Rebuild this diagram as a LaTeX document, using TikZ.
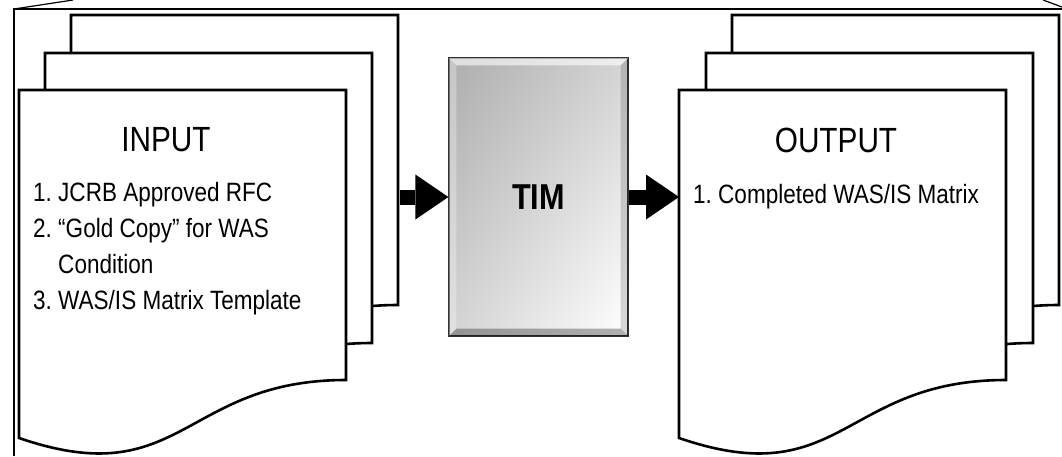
\documentclass[tikz,border=0pt]{standalone}
\usepackage{fontspec}
\setmainfont{Liberation Sans}[FakeStretch=0.85]
\usetikzlibrary{arrows.meta,calc,shadings}
\frenchspacing

% one sheet of a stack, top left corner at (#1,#2)
\newcommand{\docsheet}[2]{%
  \begin{scope}[shift={(#1,#2)}]
    \filldraw[sheet] (0,0) -- (327,0) -- (327,290)
      .. controls (163.5,290) and (163.5,404) .. (0,348) -- cycle;
  \end{scope}}

\begin{document}
\begin{tikzpicture}[x=1pt, y=-1pt,
    sheet/.style={fill=white, draw=black, line width=2.6pt, line join=miter},
    frame/.style={draw=black, line width=1.2pt},
    title/.style={font=\fontsize{35}{40}\selectfont},
    item/.style={font=\fontsize{26.5}{36}\selectfont, anchor=base west, inner sep=0pt},
    flow/.style={line width=15pt, -{Triangle[length=33pt, width=45pt, line width=0pt]}},
    timbox/.style={shade, draw=black!80, line width=1.2pt, minimum width=179pt, minimum height=278pt,
      upper left=black!32, upper right=black!17, lower left=black!17, lower right=white,
      font=\fontsize{36}{40}\selectfont\bfseries}]

    \useasboundingbox (0,0) rectangle (1062,456);

    % Frame
    \draw[frame] (14,456) -- (14,9) -- (1062,9);
    \draw[frame] (14,9) -- (73,0);
    \draw[frame] (1043,0) -- (1062,7);

    % Sheets
    \docsheet{71}{15}
    \docsheet{45}{53}
    \docsheet{19}{90}
    \docsheet{732}{15}
    \docsheet{706}{53}
    \docsheet{679}{90}

    % Nodes
    \node[title] (inputtitle) at (166,140) {INPUT};
    \node[item] (in1) at (33,201) {1. JCRB Approved RFC};
    \node[item] (in2) at (33,237) {2. “Gold Copy” for WAS};
    \node[item] (in2b) at (33,273) {\hphantom{2. }Condition};
    \node[item] (in3) at (33,309) {3. WAS/IS Matrix Template};

    \node[title] (outputtitle) at (836,140) {OUTPUT};
    \node[item] (out1) at (693,203) {1. Completed WAS/IS Matrix};

    \node[timbox] (tim) at (538.5,197) {TIM};
    \fill[white, opacity=0.6] (tim.north west) -- (tim.north east) -- ($(tim.north east)+(-8,8)$) -- ($(tim.north west)+(8,8)$) -- cycle;
    \fill[white, opacity=0.3] (tim.north west) -- ($(tim.north west)+(8,8)$) -- ($(tim.south west)+(8,-8)$) -- (tim.south west) -- cycle;
    \fill[black, opacity=0.15] (tim.north east) -- ($(tim.north east)+(-8,8)$) -- ($(tim.south east)+(-8,-8)$) -- (tim.south east) -- cycle;
    \fill[black, opacity=0.3] (tim.south west) -- ($(tim.south west)+(8,-8)$) -- ($(tim.south east)+(-8,-8)$) -- (tim.south east) -- cycle;
    \draw[black!80, line width=1.2pt] (tim.north west) rectangle (tim.south east);

    \coordinate (inputedge) at (400,197);
    \coordinate (outputedge) at (679,197);

    % Lines
    \draw[flow] (inputedge) -- (tim.west);
    \draw[flow] (tim.east) -- (outputedge);

\end{tikzpicture}
\end{document}
